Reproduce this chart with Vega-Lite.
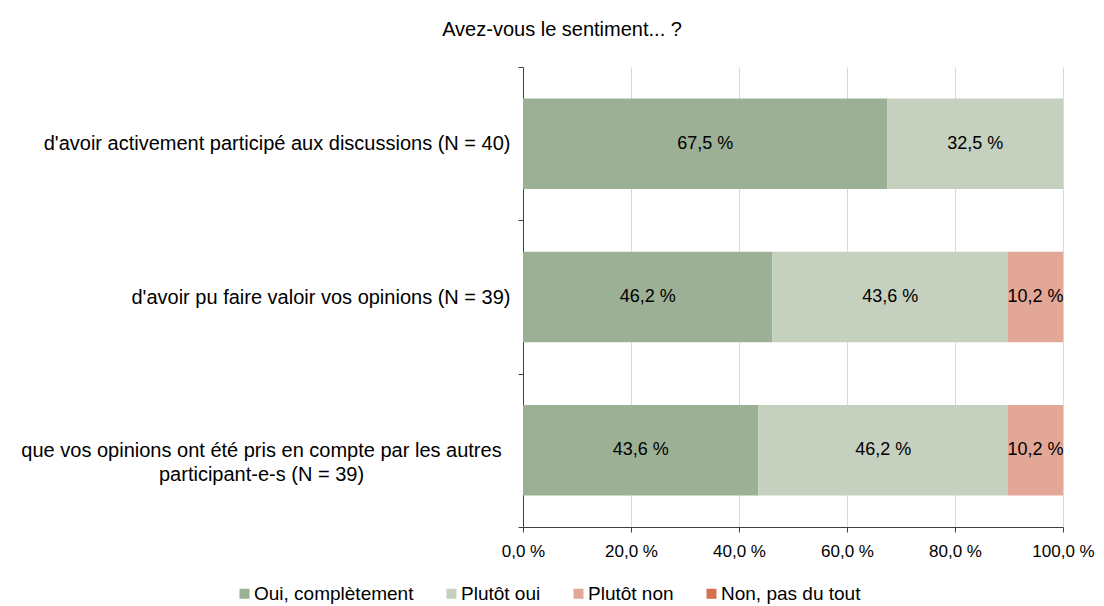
{
  "$schema": "https://vega.github.io/schema/vega-lite/v6.json",
  "width": 540,
  "height": 460,
  "autosize": {"type": "none"},
  "padding": {"left": 523, "top": 67, "right": 41, "bottom": 79},
  "background": "white",
  "config": {
    "font": "Liberation Sans",
    "view": {"stroke": null},
    "locale": {
      "number": {"decimal": ",", "thousands": " ", "grouping": [3], "currency": ["", " €"], "percent": " %"}
    }
  },
  "title": {
    "text": "Avez-vous  le sentiment... ?",
    "fontSize": 20,
    "fontWeight": "normal",
    "color": "#000000",
    "anchor": "middle",
    "frame": "group",
    "dx": -231,
    "offset": 17
  },
  "data": {
    "values": [
      {"question": "d'avoir activement participé aux discussions (N = 40)", "reponse": "Oui, complètement", "ordre": 1, "part": 0.675},
      {"question": "d'avoir activement participé aux discussions (N = 40)", "reponse": "Plutôt oui", "ordre": 2, "part": 0.325},
      {"question": "d'avoir pu faire valoir vos opinions (N = 39)", "reponse": "Oui, complètement", "ordre": 1, "part": 0.462},
      {"question": "d'avoir pu faire valoir vos opinions (N = 39)", "reponse": "Plutôt oui", "ordre": 2, "part": 0.436},
      {"question": "d'avoir pu faire valoir vos opinions (N = 39)", "reponse": "Plutôt non", "ordre": 3, "part": 0.102},
      {"question": "que vos opinions ont été pris en compte par les autres\nparticipant-e-s (N = 39)", "reponse": "Oui, complètement", "ordre": 1, "part": 0.436},
      {"question": "que vos opinions ont été pris en compte par les autres\nparticipant-e-s (N = 39)", "reponse": "Plutôt oui", "ordre": 2, "part": 0.462},
      {"question": "que vos opinions ont été pris en compte par les autres\nparticipant-e-s (N = 39)", "reponse": "Plutôt non", "ordre": 3, "part": 0.102}
    ]
  },
  "transform": [
    {"stack": "part", "groupby": ["question"], "sort": [{"field": "ordre"}], "as": ["debut", "fin"]}
  ],
  "encoding": {
    "y": {
      "field": "question",
      "type": "nominal",
      "sort": null,
      "scale": {"paddingInner": 0, "paddingOuter": 0},
      "axis": {
        "title": null,
        "tickBand": "extent",
        "labelExpr": "isString(datum.label) ? split(datum.label, '\\n') : datum.label",
        "labelFontSize": 20,
        "labelColor": "#000000",
        "labelLimit": 600,
        "labelPadding": {"condition": {"test": "isString(datum.value) && indexof(datum.value, '\\n') >= 0", "value": 257}, "value": 8},
        "labelLineHeight": 24,
        "labelAlign": {"condition": {"test": "isString(datum.value) && indexof(datum.value, '\\n') >= 0", "value": "center"}, "value": "right"},
        "tickSize": 5,
        "tickColor": "#404040",
        "domainColor": "#404040",
        "grid": false
      }
    }
  },
  "layer": [
    {
      "mark": {"type": "bar", "height": {"band": 0.59}},
      "encoding": {
        "x": {
          "field": "debut",
          "type": "quantitative",
          "scale": {"domain": [0, 1], "nice": false},
          "axis": {
            "title": null,
            "values": [0, 0.2, 0.4, 0.6, 0.8, 1],
            "format": ".1%",
            "labelFontSize": 17,
            "labelColor": "#000000",
            "labelPadding": 11,
            "tickSize": 5,
            "tickColor": "#404040",
            "domainColor": "#404040",
            "gridColor": "#d9d9d9",
            "labelFlush": false
          }
        },
        "x2": {"field": "fin"},
        "color": {
          "field": "reponse",
          "type": "nominal",
          "scale": {
            "domain": ["Oui, complètement", "Plutôt oui", "Plutôt non", "Non, pas du tout"],
            "range": ["#9cb095", "#c5d0bf", "#e3a797", "#d6704f"]
          },
          "legend": {
            "title": null,
            "orient": "none",
            "direction": "horizontal",
            "legendX": -288,
            "legendY": 517,
            "symbolType": "square",
            "symbolSize": 100,
            "symbolStrokeWidth": 0,
            "labelFontSize": 19,
            "labelColor": "#000000",
            "labelOffset": 0,
            "columnPadding": 28,
            "labelLimit": 300
          }
        }
      }
    },
    {
      "transform": [
        {"fold": ["debut", "fin"], "as": ["borne", "pos"]}
      ],
      "mark": {"type": "text", "fontSize": 18, "color": "#000000"},
      "encoding": {
        "x": {"field": "pos", "aggregate": "mean", "type": "quantitative"},
        "detail": {"field": "reponse"},
        "text": {"field": "part", "type": "quantitative", "format": ".1%"}
      }
    }
  ]
}
